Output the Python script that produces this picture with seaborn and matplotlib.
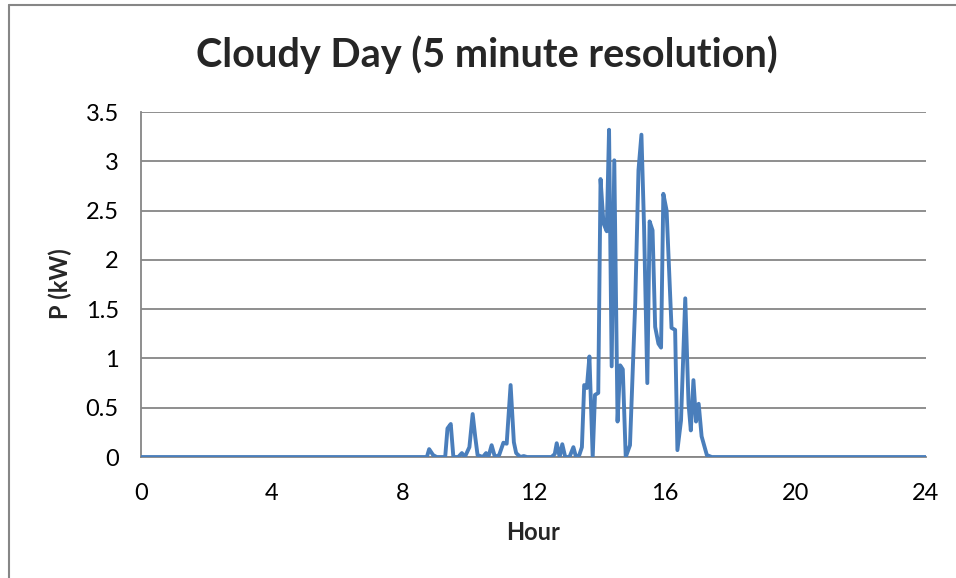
import matplotlib
matplotlib.use("Agg")
import matplotlib.pyplot as plt
import seaborn as sns
from matplotlib.lines import Line2D

# values
hours = [0, 8.74, 8.81, 8.93, 9.04, 9.30, 9.37, 9.47, 9.55, 9.70, 9.81, 9.90,
         10.04, 10.14, 10.22, 10.29, 10.45, 10.55, 10.62, 10.72, 10.82, 10.95,
         11.08, 11.18, 11.30, 11.40, 11.47, 11.60, 11.70, 11.80, 12.55, 12.65,
         12.71, 12.80, 12.88, 12.97, 13.10, 13.22, 13.30, 13.40, 13.48, 13.55,
         13.63, 13.71, 13.81, 13.88, 13.98, 14.05, 14.14, 14.24, 14.31, 14.39,
         14.47, 14.57, 14.65, 14.73, 14.82, 14.95, 15.11, 15.21, 15.30, 15.38,
         15.48, 15.55, 15.64, 15.72, 15.82, 15.90, 15.97, 16.07, 16.22, 16.33,
         16.40, 16.51, 16.64, 16.74, 16.81, 16.89, 16.97, 17.05, 17.14, 17.30,
         17.45, 24]
power = [0, 0, 0.08, 0.02, 0, 0, 0.29, 0.335, 0, 0, 0.04, 0,
         0.10, 0.436, 0.20, 0.02, 0, 0.04, 0, 0.12, 0, 0.02,
         0.145, 0.135, 0.73, 0.15, 0.04, 0, 0.01, 0, 0, 0.03,
         0.14, 0, 0.13, 0, 0, 0.10, 0, 0.02, 0.10, 0.73,
         0.70, 1.02, 0, 0.63, 0.65, 2.82, 2.37, 2.29, 3.32, 0.92,
         3.01, 0.36, 0.93, 0.89, 0, 0.12, 1.56, 2.91, 3.27, 2.34,
         0.75, 2.39, 2.30, 1.32, 1.15, 1.11, 2.67, 2.50, 1.31, 1.29,
         0.07, 0.37, 1.61, 0.54, 0.27, 0.78, 0.36, 0.54, 0.21, 0.02,
         0, 0]
xticks = [0, 4, 8, 12, 16, 20, 24]
yticks = [0, 0.5, 1, 1.5, 2, 2.5, 3, 3.5]
ytick_labels = ["0", "0.5", "1", "1.5", "2", "2.5", "3", "3.5"]

sns.set_style("white")
plt.rcParams['font.family'] = ['Lato', 'DejaVu Sans']

gray = "#868686"
fig = plt.figure(figsize=(9.56, 5.78), dpi=100)
ax = fig.add_axes([0.1475, 0.2093, 0.8211, 0.5969])

sns.lineplot(x=hours, y=power, ax=ax, color="#4a7ebb", linewidth=2.8, zorder=3)

ax.set_xlim(0, 24)
ax.set_ylim(0, 3.5)
ax.set_xticks(xticks)
ax.set_yticks(yticks)
ax.set_yticklabels(ytick_labels)
ax.tick_params(axis="both", labelsize=17, colors="black", length=6, width=1.2,
               color=gray, direction="out")
ax.tick_params(axis="y", pad=10)
ax.tick_params(axis="x", pad=13)
ax.grid(axis="y", color=gray, linewidth=1.3)
ax.set_axisbelow(True)
for side in ["top", "right"]:
    ax.spines[side].set_visible(False)
for side in ["left", "bottom"]:
    ax.spines[side].set_color(gray)
    ax.spines[side].set_linewidth(1.3)

ax.set_xlabel("")
ax.set_ylabel("")
fig.text(60 / 956, 1 - 284 / 578, "P (kW)", rotation=90, fontsize=17,
         fontweight="bold", ha="center", va="center")
fig.text(533 / 956, 1 - 532 / 578, "Hour", fontsize=17, fontweight="bold",
         ha="center", va="center")
fig.text(487 / 956, 1 - 55 / 578, "Cloudy Day (5 minute resolution)",
         fontsize=28.5, fontweight="bold", ha="center", va="center")

# chart frame (only top and left edges visible in the crop)
fig.add_artist(Line2D([9 / 956, 9 / 956], [0, 1 - 5 / 578], color=gray,
                      linewidth=1.5, transform=fig.transFigure))
fig.add_artist(Line2D([9 / 956, 1], [1 - 5 / 578, 1 - 5 / 578], color=gray,
                      linewidth=1.5, transform=fig.transFigure))

fig.savefig("out.png", dpi=100)
